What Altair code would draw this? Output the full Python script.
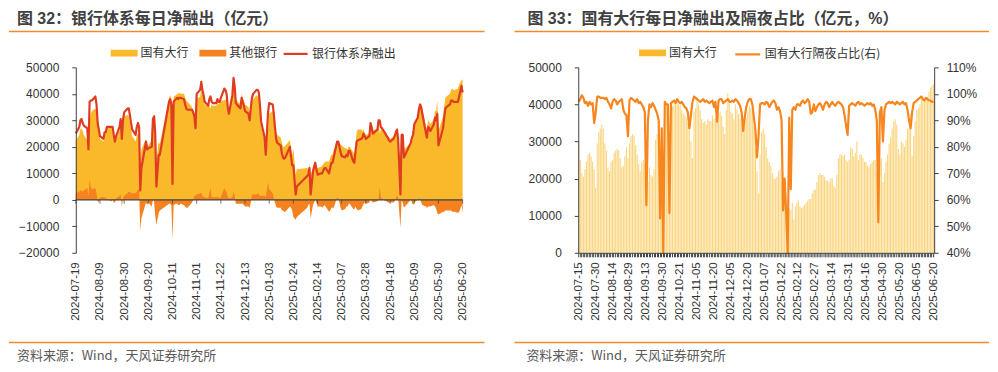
import json
import altair as alt
import pandas as pd

# ---------------- calendar (China interbank trading days) ----------------
HOLIDAYS = ["2024-09-16", "2024-09-17", "2024-10-01", "2024-10-02", "2024-10-03",
            "2024-10-04", "2024-10-07", "2025-01-01", "2025-01-28", "2025-01-29",
            "2025-01-30", "2025-01-31", "2025-02-03", "2025-02-04", "2025-04-04",
            "2025-05-01", "2025-05-02", "2025-05-05", "2025-06-02"]
MAKEUP_DAYS = ["2024-09-14", "2024-09-29", "2024-10-12", "2025-01-26", "2025-02-08", "2025-04-27"]
_bd = pd.bdate_range("2024-07-15", "2025-06-20")
_cal = _bd[~_bd.isin(pd.to_datetime(HOLIDAYS))].union(pd.to_datetime(MAKEUP_DAYS))
DATES = [d.strftime("%Y-%m-%d") for d in _cal]

LEFT_TICKS = ["2024-07-19", "2024-08-09", "2024-08-30", "2024-09-20", "2024-10-11",
              "2024-11-01", "2024-11-22", "2024-12-13", "2025-01-03", "2025-01-24",
              "2025-02-14", "2025-03-07", "2025-03-28", "2025-04-18", "2025-05-09",
              "2025-05-30", "2025-06-20"]
RIGHT_TICKS = ["2024-07-15", "2024-07-30", "2024-08-14", "2024-08-29", "2024-09-13",
               "2024-09-30", "2024-10-21", "2024-11-05", "2024-11-20", "2024-12-05",
               "2024-12-20", "2025-01-07", "2025-01-22", "2025-02-12", "2025-02-27",
               "2025-03-14", "2025-03-31", "2025-04-16", "2025-04-30", "2025-05-20",
               "2025-06-05", "2025-06-20"]

# ---------------- series (亿元 / %) ----------------
# 国有大行每日净融出, from 2024-07-15
BIG_BANKS = [
    30000, 25000, 21500, 20500, 22500, 24500, 26500, 27000, 26000, 24500, 22500,
    17500, 29500, 32500, 33500, 34500, 33500, 29500, 27500, 23000, 22000, 24500,
    25000, 27000, 27500, 28000, 27500, 25500, 23000, 23500, 26000, 28500, 25500,
    29500, 31500, 32000, 31500, 29000, 26500, 24000, 22000, 24500, 25000, 24000,
    15000, 19000, 23000, 21000, 20500, 22500, 30500, 32000, 31000, 14500, 22000,
    21000, 38500, 39500, 38000, 21000, 39000, 39500, 40000, 40000, 40500, 40000,
    40000, 38500, 37500, 37000, 36500, 35000, 33000, 30000, 25500, 38000, 39000,
    42000, 40000, 38500, 36000, 35000, 35500, 34500, 36000, 35500, 35500, 37000,
    36000, 36500, 37500, 37500, 38000, 37000, 34000, 32000, 38500, 43000, 41500,
    38000, 37500, 36000, 40000, 38500, 37500, 36000, 35000, 33000, 35500, 36500,
    38000, 39500, 39000, 38500, 34000, 28000, 22000, 16000, 26500, 32500, 33500,
    32000, 28500, 25500, 24500, 23500, 21500, 20000, 20000, 20500, 22000, 22500,
    19000, 17000, 19500, 9500, 11500, 12000, 11500, 13500, 9000, 12500, 13500,
    14000, 12500, 12000, 12500, 13000, 13500, 14000, 14500, 14500, 16000, 17000,
    17000, 19000, 21000, 21500, 21000, 21000, 20500, 19500, 19500, 19000, 20000,
    20000, 18000, 17500, 21000, 25500, 26500, 26500, 26000, 26500, 25000, 24500,
    25000, 28500, 28000, 26000, 27000, 30000, 25000, 26500, 26500, 25500, 24500,
    24500, 23500, 23000, 24000, 24500, 25000, 25000, 22000, 12500, 24500, 25500,
    19000, 21500, 24500, 26500, 29500, 31000, 33500, 35500, 36000, 34500, 28000,
    26500, 30000, 29500, 28500, 30500, 33500, 33500, 37500, 26000, 31500, 35500,
    38500, 39000, 40000, 41500, 42000, 41500, 41500, 42000, 43500, 44500, 45000,
    45500,
]
# 其他银行, from 2024-07-19
OTHER_BANKS = [
    2500, 3000, 3500, 3500, 3000, 3500, 4500,
    1500, 7500, 5000, 4000, 4500, 2500, -500, -1000, 1000, 1000, 1000,
    500, 500, 0, -500, 0, -1000, -1000, 500, 1500, 2000, -2500,
    500, 1500, 2500, 3000, 3000, 2500, 2500, 2500, 3000, 4000, 3500,
    -11500, -7000, -1000, -2000, -1000, -2500, 0, -500, -6000, -9500, -5000,
    -4000, -1500, -1500, -2000, -15000, -2000, -1500, -1500, -2000, -2000, -1500,
    -2000, -2500, -3000, -3000, -2500, -1000, 0, 1500, 1500, 2000, 2500,
    2500, 1500, 1000, 1000, 500, 2500, 4500, 1000, 1000, 1000, 1000,
    1000, 500, 1000, 4500, 3500, 3000, 1000, 500, 1000, 3000, 1500,
    -1500, -1500, -1500, -1500, -1500, -2000, -2500, -2500, -3000, -1000, 2000,
    2000, 2000, 2500, 2000, 1500, 1500, 1500, 1000, 6500, 4000, 2500,
    500, -1000, -2500, -3000, -3000, -4000, -4000, -4500, -4500, -3000, -2500,
    -3000, -4000, -6500, -7500, -6500, -3000, -2000, -1500, -7000, -2000, -1000,
    0, -1000, -2500, -2500, -3000, -2500, -2000, -2500, -4500, -4000, -3000,
    -3000, -3000, 1000, 500, -1000, -3000, -4000, -3500, -2500, -2500, -1500,
    -1500, -3500, -3500, -2500, -3500, -4000, -3500, -2500, -1500, -1000, -1500,
    -1000, 500, -500, -1000, -500, 0, 5000, 1000, 500, -500, -500,
    -1000, -1000, -1000, -1000, -500, 500, 1500, 1000, -10500, 0, -1000,
    -3000, 0, -1000, -2000, -1000, 0, 500, 500, -1000, -2000, -2500,
    -3000, -2500, -2500, -2500, -2000, -2500, -3500, -5000, -5500, -4500, -4500,
    -4000, -4000, -4000, -4000, -4500, -4500, -4500, -5000, -4500, -3500, -2000,
    -5000,
]
# 银行体系净融出, from 2024-07-19
NET_TOTAL = [
    25000, 27500, 30000, 30500, 29000, 28000, 27000,
    19000, 37000, 37500, 37500, 39000, 36000, 29000, 26500, 24000, 23000, 25500,
    25500, 27500, 27500, 27500, 27500, 24500, 22000, 24000, 27500, 30500, 23000,
    30000, 33000, 34500, 34500, 32000, 29000, 26500, 24500, 27500, 29000, 27500,
    3500, 12000, 22000, 19000, 19500, 20000, 30500, 31500, 25000, 5000, 17000,
    17000, 37000, 38000, 36000, 6000, 37000, 38000, 38500, 38000, 38500, 38500,
    38000, 36000, 34500, 34000, 34000, 34000, 33000, 31500, 27000, 40000, 41500,
    44500, 41500, 39500, 37000, 35500, 38000, 39000, 37000, 36500, 36500, 38000,
    37000, 37000, 38500, 42000, 41500, 40000, 35000, 32500, 39500, 46000, 43000,
    36500, 36000, 34500, 38500, 37000, 35500, 33500, 32500, 30000, 34500, 38500,
    40000, 41500, 41500, 40500, 35500, 29500, 23500, 17000, 33000, 36500, 36000,
    32500, 27500, 23000, 21500, 20500, 17500, 16000, 15500, 16000, 19000, 20000,
    16000, 13000, 13000, 2000, 5000, 9000, 9500, 12000, 2000, 10500, 12500,
    14000, 11500, 9500, 10000, 10000, 11000, 12000, 12000, 10000, 12000, 14000,
    14000, 16000, 22000, 22000, 20000, 18000, 16500, 16000, 17000, 16500, 18500,
    18500, 14500, 14000, 18500, 22000, 22500, 23000, 23500, 25000, 24000, 23000,
    24000, 29000, 27500, 25000, 26500, 30000, 30000, 27500, 27000, 25000, 24000,
    23500, 22500, 22000, 23000, 24000, 25500, 26500, 23000, 2000, 24500, 24500,
    16000, 21500, 23500, 24500, 28500, 31000, 34000, 36000, 35000, 32500, 25500,
    23500, 27500, 27000, 26000, 28500, 31000, 30000, 32500, 20500, 27000, 31000,
    34500, 35000, 36000, 37500, 37500, 37000, 37000, 37000, 39000, 41000, 43000,
    40500,
]
# 国有大行隔夜占比 (%), from 2024-07-15
OVERNIGHT_SHARE = [
    97, 98, 99.5, 98.5, 96.5, 97, 95.5, 97, 96, 96.5, 89,
    93, 99, 99, 98.5, 98.5, 98.5, 98, 98.5, 97, 96, 94.5,
    97, 98, 97.5, 96, 97, 97.5, 98, 94, 92.5, 92, 84,
    97.5, 98.5, 98, 97.5, 97, 98, 96.5, 97, 96, 95, 93,
    58, 90, 96, 95, 96.5, 95.5, 94, 92.5, 90, 53, 87,
    40, 97, 96, 96, 55, 96.5, 97, 97.5, 96.5, 98, 97,
    96.5, 97, 96, 95, 94.5, 93, 87, 92, 97, 99, 98.5,
    98, 97.5, 97, 97.5, 98, 97, 97.5, 97, 96.5, 97, 97.5,
    95, 97, 89.5, 97.5, 98, 98, 96.5, 97, 97.5, 98, 97,
    97, 97.5, 97, 98, 97.5, 96.5, 95.5, 93, 86, 91, 95,
    97, 98, 98, 96, 91, 86, 76, 84, 96, 96.5, 96.5,
    96, 97, 96.5, 95, 96, 97, 97.5, 96.5, 94, 95, 93.5,
    90, 56, 68, 55, 40, 91, 64, 94, 95, 94, 96,
    96, 95.5, 97, 97.5, 96.5, 97, 98, 97, 92.5, 93, 96,
    93.5, 95, 96, 96.5, 95.5, 94, 96, 97, 96.5, 95, 96,
    97, 96, 95.5, 96.5, 97, 96.5, 96, 95, 92, 88, 84.5,
    95.5, 96, 96.5, 96, 95.5, 96.5, 97, 96, 96.5, 96, 95.5,
    96, 96.5, 96, 96.5, 95.5, 96, 94, 90, 51.5, 93, 95,
    82, 94, 96, 96.5, 97, 96.5, 97, 96.5, 96, 97, 96.5,
    96, 96.5, 97, 96, 96.5, 94, 90, 87, 93, 96.5, 97,
    97.5, 98, 98.5, 99, 98, 97.5, 98.5, 98, 97.5, 97.5, 97,
    97,
]

TITLE_L = "图 32：银行体系每日净融出（亿元）"
TITLE_R = "图 33：国有大行每日净融出及隔夜占比（亿元，%）"
SOURCE = "资料来源：Wind，天风证券研究所"
SER_L = ["国有大行", "其他银行", "银行体系净融出"]
SER_R = ["国有大行", "国有大行隔夜占比(右)"]

# ---------------- styles ----------------
YEL, ORA, RED = "#F9B92A", "#F5821F", "#E03C22"
RLINE = "#F7861E"
RULE, AX, TXT = "#F08A2B", "#404040", "#333333"
CJK = "Noto Sans CJK SC"
LAT = "Liberation Sans, Noto Sans CJK SC"
RECT = "M-1,-0.25H1V0.25H-1Z"
H = 186
WL, WR = 388, 357

rows_l = list(zip(DATES[4:], BIG_BANKS[4:], OTHER_BANKS, NET_TOTAL))
left_df = pd.DataFrame(rows_l, columns=["date", "big", "other", "net"])
tick_df = pd.DataFrame({"date": LEFT_TICKS})
rows_r = list(zip(DATES, BIG_BANKS, OVERNIGHT_SHARE))
right_df = pd.DataFrame(rows_r, columns=["date", "big", "ratio"])


def dt(s):
    y, m, d = (int(v) for v in s.split("-"))
    return alt.DateTime(year=y, month=m, date=d, utc=True)


def one():
    return alt.Data(values=[{"k": 0}])


def text_layer(txt, x, y, size, color, weight="normal", font=CJK):
    return alt.Chart(one()).mark_text(
        text=txt, align="left", baseline="middle", fontSize=size, font=font,
        fontWeight=weight, color=color,
    ).encode(x=alt.value(x), y=alt.value(y))


def rule_layer(x1, x2, y, color=RULE, width=1.6):
    return alt.Chart(one()).mark_rule(color=color, strokeWidth=width).encode(
        x=alt.value(x1), x2=alt.value(x2), y=alt.value(y))


def decor(title, tx, rx1, rx2, sx):
    return [
        rule_layer(rx1, rx1 + 40, -58, "#ffffff", 0.5),   # pins the top edge
        text_layer(title, tx, -48, 16, "#404040", "bold", LAT),
        rule_layer(rx1, rx2, -36),
        rule_layer(rx1, rx2, 276),
        text_layer(SOURCE, sx, 290, 13, "#595959"),
    ]


# ---------------- left panel ----------------
xs_L = alt.Scale(type="utc", domain=[dt(LEFT_TICKS[0]), dt(LEFT_TICKS[-1])])
ys_L = alt.Scale(domain=[-20000, 50000], nice=False)
tick_vals = [dt(s) for s in LEFT_TICKS]
ax_lab = alt.Axis(values=tick_vals, labelExpr="utcFormat(datum.value, '%Y-%m-%d')",
                  labelAngle=270, labelAlign="right", labelBaseline="middle",
                  labelPadding=9, labelFontSize=11.5, labelFont=LAT, labelColor=TXT,
                  domain=False, ticks=False, grid=False, title=None,
                  labelOverlap=False)
ax_yL = alt.Axis(values=list(range(-20000, 50001, 10000)), format="d", labelFontSize=12,
                 labelFont=LAT, labelColor=TXT, domainColor=AX, tickColor=AX, tickSize=4,
                 labelPadding=13, grid=False, title=None, zindex=1)
fill_L = alt.Scale(domain=SER_L[:2], range=[YEL, ORA])
leg_fill_L = alt.Legend(orient="none", legendX=35, legendY=-28, direction="horizontal",
                        title=None, symbolType=RECT, symbolSize=729, symbolStrokeWidth=0,
                        labelFontSize=12, labelFont=CJK, labelColor=TXT, columnPadding=10,
                        labelOffset=3, padding=0)
leg_line_L = alt.Legend(orient="none", legendX=207, legendY=-27, direction="horizontal",
                        title=None, symbolType="stroke", symbolSize=576, symbolStrokeWidth=2.2,
                        labelFontSize=12, labelFont=CJK, labelColor=TXT, labelOffset=3,
                        padding=0)

XL = alt.X("date:T", scale=xs_L, axis=ax_lab)
area_big = alt.Chart(left_df).transform_calculate(series=f"'{SER_L[0]}'").mark_area().encode(
    x=XL,
    y=alt.Y("big:Q", scale=ys_L, axis=ax_yL, stack=None),
    fill=alt.Fill("series:N", scale=fill_L, legend=leg_fill_L),
)
area_other = alt.Chart(left_df).transform_calculate(series=f"'{SER_L[1]}'").mark_area().encode(
    x=XL,
    y=alt.Y("other:Q", scale=ys_L, axis=ax_yL, stack=None),
    fill=alt.Fill("series:N", scale=fill_L, legend=leg_fill_L),
)
zero_line = alt.Chart(left_df).mark_rule(color=AX, strokeWidth=1.3).encode(
    x=alt.X("min(date):T", scale=xs_L, axis=ax_lab),
    x2=alt.X2("max(date):T"),
    y=alt.Y(datum=0, scale=ys_L, axis=ax_yL))
zero_ticks = alt.Chart(tick_df).mark_tick(orient="vertical", size=4, thickness=1,
                                          yOffset=2, color=AX).encode(
    x=XL,
    y=alt.Y(datum=0, scale=ys_L, axis=ax_yL))
line_net = alt.Chart(left_df).transform_calculate(series=f"'{SER_L[2]}'").mark_line(
    strokeWidth=2.2, strokeJoin="round").encode(
    x=XL,
    y=alt.Y("net:Q", scale=ys_L, axis=ax_yL),
    stroke=alt.Stroke("series:N", scale=alt.Scale(domain=[SER_L[2]], range=[RED]),
                      legend=leg_line_L),
)
left = alt.layer(area_big, area_other, zero_line, zero_ticks, line_net,
                 *decor(TITLE_L, -59, -67, 410, -59)).properties(width=WL, height=H)

# ---------------- right panel ----------------
xs_R = alt.Scale(paddingInner=0.3, paddingOuter=0)
lab_expr = f"indexof({json.dumps(RIGHT_TICKS)}, datum.value) >= 0 ? datum.value : ''"
ax_xR = alt.Axis(labelExpr=lab_expr, labelAngle=270, labelAlign="right",
                 labelBaseline="middle", labelPadding=5, labelFontSize=11.5, labelFont=LAT,
                 labelColor=TXT, domainColor=AX, tickColor=AX, tickSize=4,
                 labelOverlap=False, grid=False, title=None, zindex=1)
ax_yR1 = alt.Axis(values=list(range(0, 50001, 10000)), format="d", labelFontSize=12,
                  labelFont=LAT, labelColor=TXT, domainColor=AX, tickColor=AX, tickSize=4,
                  labelPadding=13, grid=False, title=None, zindex=1)
ax_yR2 = alt.Axis(orient="right", values=list(range(40, 111, 10)),
                  labelExpr="datum.value + '%'", labelFontSize=12, labelFont=LAT,
                  labelColor=TXT, domainColor=AX, tickColor=AX, tickSize=4, labelPadding=8,
                  grid=False, title=None, zindex=1)
leg_fill_R = alt.Legend(orient="none", legendX=61, legendY=-28, direction="horizontal",
                        title=None, symbolType=RECT, symbolSize=729, symbolStrokeWidth=0,
                        symbolOpacity=1, labelFontSize=12, labelFont=CJK, labelColor=TXT,
                        labelOffset=3, padding=0)
leg_line_R = alt.Legend(orient="none", legendX=156, legendY=-27, direction="horizontal",
                        title=None, symbolType="stroke", symbolSize=625, symbolStrokeWidth=2.2,
                        labelFontSize=12, labelFont=CJK, labelColor=TXT, labelOffset=3,
                        padding=0)

XR = alt.X("date:O", scale=xs_R, axis=ax_xR, sort=None)
bars = alt.Chart(right_df).transform_calculate(series=f"'{SER_R[0]}'").mark_bar(
    opacity=0.62).encode(
    x=XR,
    y=alt.Y("big:Q", scale=alt.Scale(domain=[0, 50000], nice=False), axis=ax_yR1),
    fill=alt.Fill("series:N", scale=alt.Scale(domain=[SER_R[0]], range=[YEL]),
                  legend=leg_fill_R),
)
ratio_line = alt.Chart(right_df).transform_calculate(series=f"'{SER_R[1]}'").mark_line(
    strokeWidth=2.2, strokeJoin="round").encode(
    x=XR,
    y=alt.Y("ratio:Q", scale=alt.Scale(domain=[40, 110], nice=False), axis=ax_yR2),
    stroke=alt.Stroke("series:N", scale=alt.Scale(domain=[SER_R[1]], range=[RLINE]),
                      legend=leg_line_R),
)
right = alt.layer(bars, ratio_line, *decor(TITLE_R, -51, -64, 412, -52)).resolve_scale(
    y="independent").properties(width=WR, height=H)

chart = alt.hconcat(left, right, spacing=28).resolve_scale(
    fill="independent", stroke="independent").properties(padding=0).configure_view(
    strokeWidth=0)

chart.save("out.html", embed_options={"renderer": "svg", "actions": False})
